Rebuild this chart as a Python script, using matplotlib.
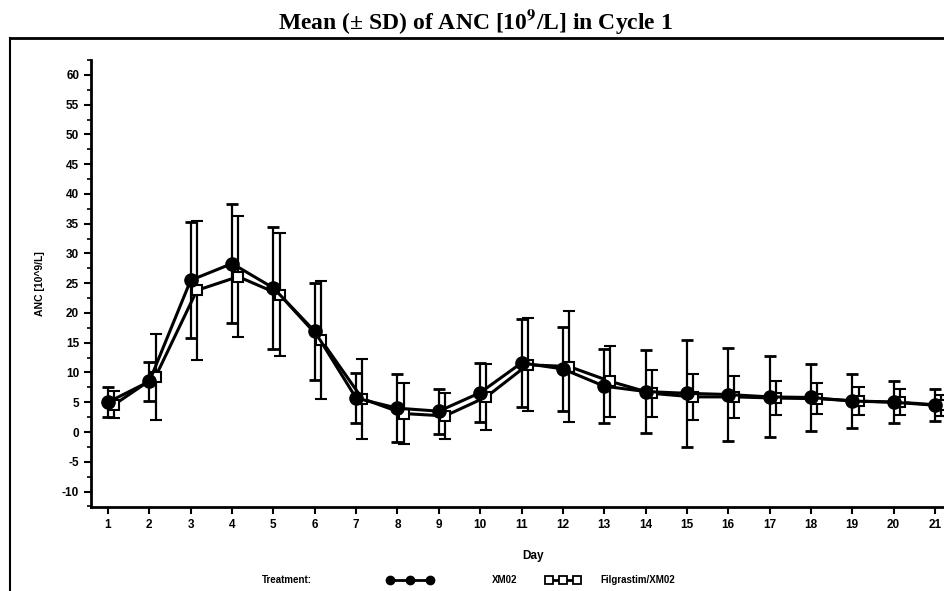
import matplotlib.pyplot as plt
from matplotlib.lines import Line2D
from matplotlib.ticker import MultipleLocator
import numpy as np

plt.rcParams['axes.unicode_minus'] = False
plt.rcParams['mathtext.fontset'] = 'stix'

days = list(range(1, 22))

# XM02 (filled circles)
xm02_mean = [5.0, 8.5, 25.5, 28.3, 24.2, 16.9, 5.7, 4.0, 3.5, 6.6, 11.6,
             10.6, 7.7, 6.8, 6.5, 6.3, 5.9, 5.8, 5.2, 5.0, 4.5]
xm02_sd = [2.5, 3.3, 9.7, 10.0, 10.3, 8.1, 4.2, 5.7, 3.8, 5.0, 7.4,
           7.0, 6.2, 7.0, 9.0, 7.8, 6.8, 5.7, 4.6, 3.5, 2.7]

# Filgrastim/XM02 (open squares)
fil_mean = [4.6, 9.3, 23.8, 26.1, 23.1, 15.5, 5.6, 3.1, 2.7, 5.9, 11.3,
            11.0, 8.5, 6.5, 5.9, 5.9, 5.7, 5.6, 5.2, 5.0, 4.5]
fil_sd = [2.3, 7.2, 11.7, 10.2, 10.4, 9.9, 6.7, 5.1, 3.9, 5.5, 7.8,
          9.4, 6.0, 4.0, 3.9, 3.5, 2.9, 2.6, 2.4, 2.2, 1.8]

W, H = 944, 591
fig = plt.figure(figsize=(W / 100, H / 100), dpi=100)
bold = {'family': 'Liberation Sans', 'weight': 'bold'}

# axes extends past the right edge, like the cropped scan
ax = fig.add_axes([91 / W, 1 - 507 / H, (975 - 91) / W, (507 - 60) / H])

x = np.array(days, dtype=float)
ax.errorbar(x, xm02_mean, yerr=xm02_sd, color='black', lw=2.2, marker='o',
            ms=9.5, mfc='black', mec='black', ecolor='black', elinewidth=1.6,
            capsize=4, capthick=2, zorder=3)
ax.errorbar(x + 0.15, fil_mean, yerr=fil_sd, color='black', lw=2.2, marker='s',
            ms=7.5, mfc='white', mec='black', mew=1.5, ecolor='black', elinewidth=1.6,
            capsize=4, capthick=2, zorder=2)

ax.set_xlim(1 - 17 / 41.35, 21 + 40 / 41.35)
ax.set_ylim(-12.6, 62.5)
ax.set_xticks(days)
ax.set_yticks(range(-10, 61, 5))
ax.yaxis.set_minor_locator(MultipleLocator(2.5))
ax.tick_params(axis='both', direction='out', length=5, width=1.5, labelsize=8.5)
ax.tick_params(axis='y', which='minor', length=3, width=1.2)
for lab in ax.get_xticklabels() + ax.get_yticklabels():
    lab.set_fontproperties(bold)
    lab.set_fontsize(8.5)
ax.spines['top'].set_visible(False)
ax.spines['right'].set_visible(False)
ax.spines['left'].set_linewidth(2)
ax.spines['bottom'].set_linewidth(2)

ax.set_xlabel('Day', fontdict=bold, fontsize=8.5, labelpad=14)
ax.set_ylabel('ANC [10^9/L]', fontdict=bold, fontsize=7.5, labelpad=12)

# title
fig.text(475 / W, 1 - 22 / H, 'Mean (± SD) of ANC [10$^{\\mathbf{9}}$/L] in Cycle 1',
         ha='center', va='center', fontsize=17, fontweight='bold',
         family='Liberation Serif')

# outer frame of the scanned page
fig.add_artist(Line2D([10 / W, 1], [1 - 38 / H, 1 - 38 / H], color='black', lw=2))
fig.add_artist(Line2D([10 / W, 10 / W], [1 - 38 / H, 0], color='black', lw=1.5))

# legend row
ly = 1 - 580 / H
fig.text(262 / W, ly, 'Treatment:', fontdict=bold, fontsize=7, va='center')
fig.add_artist(Line2D([390 / W, 410 / W, 430 / W], [ly, ly, ly], color='black',
                      lw=2, marker='o', ms=6, mfc='black'))
fig.text(492 / W, ly, 'XM02', fontdict=bold, fontsize=7, va='center')
fig.add_artist(Line2D([549 / W, 563 / W, 577 / W], [ly, ly, ly], color='black',
                      lw=2, marker='s', ms=5.5, mfc='white', mew=1.3))
fig.text(600 / W, ly, 'Filgrastim/XM02', fontdict=bold, fontsize=7, va='center')

fig.savefig('out.png', dpi=100)
